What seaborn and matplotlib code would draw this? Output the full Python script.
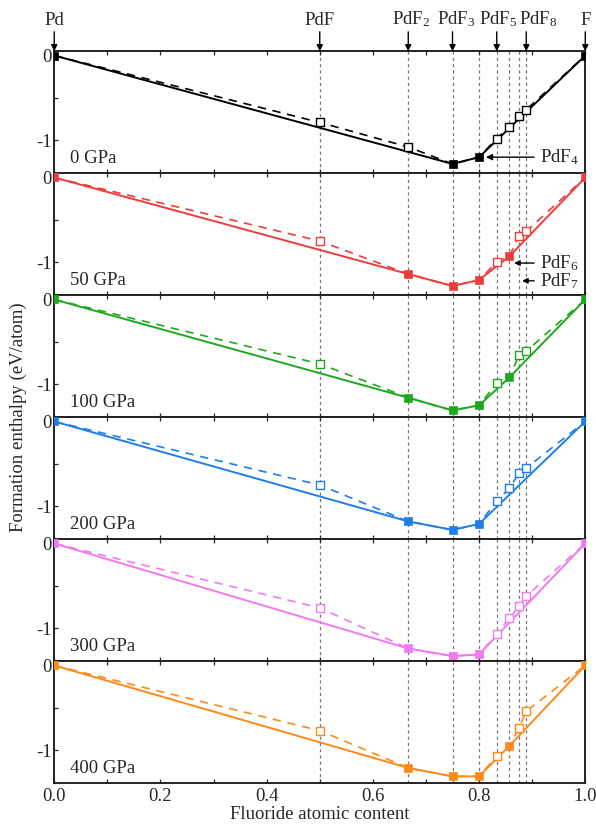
import numpy as np
import pandas as pd
import seaborn as sns
import matplotlib
matplotlib.use("Agg")
import matplotlib.pyplot as plt
from matplotlib.ticker import MultipleLocator, FormatStrFormatter

# Compositions (fluorine atomic fraction)
compounds = ["Pd", "PdF", "PdF2", "PdF3", "PdF4", "PdF5", "PdF6", "PdF7", "PdF8", "F"]
fraction = [0.0, 1/2, 2/3, 3/4, 4/5, 5/6, 6/7, 7/8, 8/9, 1.0]

pressures = ["0 GPa", "50 GPa", "100 GPa", "200 GPa", "300 GPa", "400 GPa"]
colors = ["#000000", "#f03c3c", "#1fa81f", "#1f7ee8", "#f07af0", "#ff8a1a"]

# Formation enthalpies (eV/atom), same order as compounds
h_0 = [0.0, -0.79, -1.08, -1.28, -1.20, -0.98, -0.84, -0.71, -0.64, 0.0]
h_50 = [0.0, -0.75, -1.14, -1.28, -1.21, -1.00, -0.93, -0.69, -0.635, 0.0]
h_100 = [0.0, -0.76, -1.16, -1.31, -1.25, -0.99, -0.92, -0.66, -0.61, 0.0]
h_200 = [0.0, -0.75, -1.18, -1.28, -1.21, -0.94, -0.79, -0.61, -0.55, 0.0]
h_300 = [0.0, -0.76, -1.24, -1.33, -1.31, -1.07, -0.88, -0.74, -0.62, 0.0]
h_400 = [0.0, -0.77, -1.21, -1.31, -1.31, -1.07, -0.95, -0.74, -0.54, 0.0]
enthalpies = [h_0, h_50, h_100, h_200, h_300, h_400]

# Phases on the convex hull (1 = stable)
s_0 = [1, 0, 0, 1, 1, 0, 0, 0, 0, 1]
s_50 = [1, 0, 1, 1, 1, 0, 1, 0, 0, 1]
s_100 = [1, 0, 1, 1, 1, 0, 1, 0, 0, 1]
s_200 = [1, 0, 1, 1, 1, 0, 0, 0, 0, 1]
s_300 = [1, 0, 1, 1, 1, 0, 0, 0, 0, 1]
s_400 = [1, 0, 1, 1, 1, 0, 1, 0, 0, 1]
stable = [s_0, s_50, s_100, s_200, s_300, s_400]

# Phase names marked above the top panel: arrow position and label position
top_labels = ["Pd", "PdF", r"PdF$_2$", r"PdF$_3$", r"PdF$_5$", r"PdF$_8$", "F"]
top_arrow_x = [0.0, 1/2, 2/3, 3/4, 5/6, 8/9, 1.0]
top_text_x = [0.0, 0.5, 0.672, 0.757, 0.836, 0.912, 1.0]

sns.set_style("ticks")
plt.rcParams["font.family"] = ["Liberation Serif", "DejaVu Serif"]
plt.rcParams["mathtext.fontset"] = "custom"
plt.rcParams["mathtext.rm"] = "Liberation Serif"
plt.rcParams["mathtext.it"] = "Liberation Serif:italic"
plt.rcParams["axes.unicode_minus"] = False
plt.rcParams["xtick.direction"] = "in"
plt.rcParams["ytick.direction"] = "in"

FS = 13.5

fig, axes = plt.subplots(6, 1, figsize=(5.96, 8.27), dpi=100, sharex=True)
fig.subplots_adjust(left=0.091, right=0.982, top=0.938, bottom=0.053, hspace=0.0)

ymin, ymax = -1.39, 0.05
for ax, pname, col, h, st in zip(axes, pressures, colors, enthalpies, stable):
    df = pd.DataFrame({"x": fraction, "H": h, "stable": st, "name": compounds})
    hull = df[df["stable"] == 1]
    meta = df[df["stable"] == 0]

    for xv in fraction[1:-1]:
        ax.axvline(xv, color="#777777", lw=0.9, ls=(0, (2.5, 2.5)), zorder=0)

    sns.lineplot(data=df, x="x", y="H", ax=ax, color=col, lw=1.2,
                 linestyle=(0, (5, 4)), sort=True, estimator=None, zorder=2)
    sns.lineplot(data=hull, x="x", y="H", ax=ax, color=col, lw=1.4,
                 sort=True, estimator=None, zorder=3)
    sns.scatterplot(data=meta, x="x", y="H", ax=ax, marker="s", s=30,
                    facecolor="white", edgecolor=col, linewidth=1.0, zorder=4)
    sns.scatterplot(data=hull, x="x", y="H", ax=ax, marker="s", s=36,
                    color=col, edgecolor=col, linewidth=0.5, zorder=5)

    ax.set_xlim(0, 1)
    ax.set_ylim(ymin, ymax)
    ax.set_yticks([0, -1])
    ax.set_yticklabels(["0", "-1"])
    ax.yaxis.set_minor_locator(MultipleLocator(0.5))
    ax.xaxis.set_major_locator(MultipleLocator(0.2))
    ax.xaxis.set_minor_locator(MultipleLocator(0.1))
    ax.xaxis.set_major_formatter(FormatStrFormatter("%.1f"))
    ax.tick_params(which="both", direction="in", top=True, right=False,
                   labelsize=FS, length=3, width=0.9)
    ax.tick_params(axis="y", pad=2)
    ax.set_xlabel("")
    ax.set_ylabel("")
    for sp in ax.spines.values():
        sp.set_linewidth(1.4)
        sp.set_color("#222222")
    ax.text(0.03, 0.05, pname, transform=ax.transAxes, fontsize=FS,
            ha="left", va="bottom")

axes[-1].set_xlabel("Fluoride atomic content", fontsize=FS, labelpad=1)
fig.text(0.03, 0.496, "Formation enthalpy (eV/atom)", rotation=90,
         ha="center", va="center", fontsize=FS)

# Phase labels with arrows above the top panel
for lab, xa, xt in zip(top_labels, top_arrow_x, top_text_x):
    axes[0].annotate("", xy=(xa, ymax), xycoords="data",
                     xytext=(0, 14), textcoords="offset points",
                     annotation_clip=False,
                     arrowprops=dict(arrowstyle="-|>", color="black", lw=1.0,
                                     mutation_scale=9, shrinkA=0, shrinkB=0))
    axes[0].annotate(lab, xy=(xt, ymax), xycoords="data",
                     xytext=(0, 16), textcoords="offset points",
                     ha="center", va="bottom", fontsize=FS,
                     annotation_clip=False)

# Side labels for individual phases
axes[0].annotate(r"PdF$_4$", xy=(0.813, -1.20), xytext=(0.915, -1.20),
                 ha="left", va="center", fontsize=FS,
                 arrowprops=dict(arrowstyle="-|>", color="black", lw=1.0,
                                 mutation_scale=9, shrinkA=2, shrinkB=0))
axes[1].annotate(r"PdF$_6$", xy=(0.866, -1.01), xytext=(0.915, -1.01),
                 ha="left", va="center", fontsize=FS,
                 arrowprops=dict(arrowstyle="-|>", color="black", lw=1.0,
                                 mutation_scale=8, shrinkA=2, shrinkB=0))
axes[1].annotate(r"PdF$_7$", xy=(0.881, -1.22), xytext=(0.915, -1.22),
                 ha="left", va="center", fontsize=FS,
                 arrowprops=dict(arrowstyle="-|>", color="black", lw=1.0,
                                 mutation_scale=8, shrinkA=2, shrinkB=0))

fig.savefig("out.png", dpi=100)
